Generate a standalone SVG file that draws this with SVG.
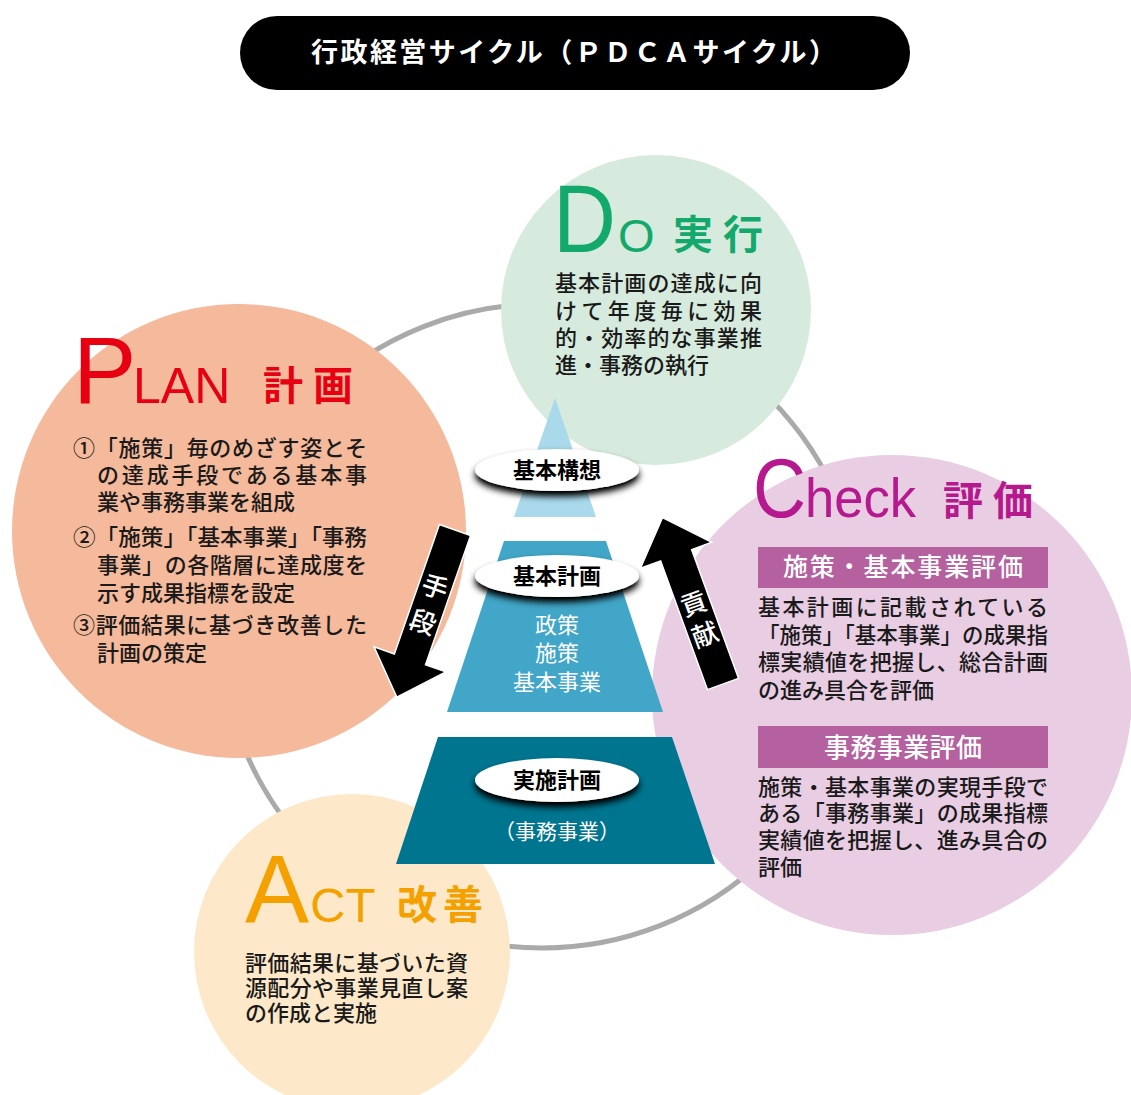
<svg xmlns="http://www.w3.org/2000/svg" width="1131" height="1095" viewBox="0 0 1131 1095">
<defs>
<style>
.jp{font-family:"Noto Sans CJK JP","Noto Sans",sans-serif;}
.body{font-family:"Noto Sans CJK JP",sans-serif;font-size:22px;font-weight:500;fill:#1a1a1a;}
.lat{font-family:"Liberation Sans",Arial,sans-serif;}
.head{font-family:"Noto Sans CJK JP",sans-serif;font-size:40px;font-weight:700;}
.ell{fill:#fff;filter:url(#sh);}
.elab{font-family:"Noto Sans CJK JP",sans-serif;font-size:22px;font-weight:700;fill:#000;text-anchor:middle;}
.wt{font-family:"Noto Sans CJK JP",sans-serif;fill:#fff;text-anchor:middle;}
.bar{fill:#b5609f;}
</style>
<filter id="sh" x="-20%" y="-40%" width="140%" height="200%">
<feGaussianBlur in="SourceAlpha" stdDeviation="3.5"/>
<feOffset dx="0" dy="5" result="b"/>
<feComponentTransfer in="b" result="c"><feFuncA type="linear" slope="1.1"/></feComponentTransfer>
<feMerge><feMergeNode in="c"/><feMergeNode in="SourceGraphic"/></feMerge>
</filter>
</defs>
<rect width="1131" height="1095" fill="#fff"/>

<g id="title">
<rect x="240" y="16" width="670" height="74" rx="37" fill="#000"/>
<text x="311" y="62" class="jp" font-size="27" font-weight="700" fill="#fff" textLength="525" lengthAdjust="spacing">行政経営サイクル（ＰＤＣＡサイクル）</text>
</g>

<circle id="ring" cx="542" cy="626" r="322" fill="none" stroke="#aaaaaa" stroke-width="5"/>

<g id="do">
<circle cx="656" cy="310" r="155" fill="#d6eadd"/>
<text x="553" y="252" class="lat" font-size="97" fill="#13a86c" textLength="63" lengthAdjust="spacingAndGlyphs">D</text>
<text x="618" y="252" class="lat" font-size="47" fill="#13a86c">O</text>
<text x="673" y="249" class="head" fill="#13a86c" letter-spacing="10">実行</text>
<text class="body" x="555" y="291" textLength="207" lengthAdjust="spacing">基本計画の達成に向</text>
<text class="body" x="555" y="319" textLength="207" lengthAdjust="spacing">けて年度毎に効果</text>
<text class="body" x="555" y="346" textLength="207" lengthAdjust="spacing">的・効率的な事業推</text>
<text class="body" x="555" y="373">進・事務の執行</text>
</g>

<g id="plan">
<circle cx="239" cy="531" r="227" fill="#f5b99b"/>
<text x="73" y="403" class="lat" font-size="95" fill="#e60012">P</text>
<text x="133" y="403" class="lat" font-size="50" fill="#e60012">LAN</text>
<text x="263" y="400" class="head" fill="#e60012" letter-spacing="10">計画</text>
<text class="body" x="73" y="456" textLength="294" lengthAdjust="spacing">①「施策」毎のめざす姿とそ</text>
<text class="body" x="97" y="483" textLength="270" lengthAdjust="spacing">の達成手段である基本事</text>
<text class="body" x="97" y="510">業や事務事業を組成</text>
<text class="body" x="73" y="545" textLength="294" lengthAdjust="spacingAndGlyphs">②「施策」「基本事業」「事務</text>
<text class="body" x="97" y="573" textLength="270" lengthAdjust="spacing">事業」の各階層に達成度を</text>
<text class="body" x="97" y="601">示す成果指標を設定</text>
<text class="body" x="73" y="633" textLength="294" lengthAdjust="spacing">③評価結果に基づき改善した</text>
<text class="body" x="97" y="661">計画の策定</text>
</g>

<g id="check">
<circle cx="892" cy="695" r="240" fill="#e8cde3"/>
<text x="753" y="517" class="lat" font-size="83" fill="#b5198d" textLength="53" lengthAdjust="spacingAndGlyphs">C</text>
<text x="805" y="517" class="lat" font-size="56" fill="#b5198d" textLength="111" lengthAdjust="spacingAndGlyphs">heck</text>
<text x="943" y="515" class="head" fill="#b5198d" letter-spacing="10">評価</text>
<rect class="bar" x="758" y="547" width="290" height="41"/>
<text class="wt" x="903" y="576" font-size="25" font-weight="500" textLength="240" lengthAdjust="spacing">施策・基本事業評価</text>
<text class="body" x="758" y="615" textLength="290" lengthAdjust="spacing">基本計画に記載されている</text>
<text class="body" x="758" y="643" textLength="290" lengthAdjust="spacingAndGlyphs">「施策」「基本事業」の成果指</text>
<text class="body" x="758" y="670" textLength="290" lengthAdjust="spacing">標実績値を把握し、総合計画</text>
<text class="body" x="758" y="698">の進み具合を評価</text>
<rect class="bar" x="758" y="726" width="290" height="42"/>
<text class="wt" x="903" y="757" font-size="26" font-weight="500" textLength="158" lengthAdjust="spacing">事務事業評価</text>
<text class="body" x="758" y="795" textLength="290" lengthAdjust="spacing">施策・基本事業の実現手段で</text>
<text class="body" x="758" y="821" textLength="290" lengthAdjust="spacing">ある「事務事業」の成果指標</text>
<text class="body" x="758" y="848" textLength="290" lengthAdjust="spacing">実績値を把握し、進み具合の</text>
<text class="body" x="758" y="875">評価</text>
</g>

<g id="act">
<circle cx="352" cy="952" r="158" fill="#fde9c9"/>
<text x="245" y="922" class="lat" font-size="96" fill="#f4a100">A</text>
<text x="310" y="922" class="lat" font-size="49" fill="#f4a100">CT</text>
<text x="397" y="919" class="head" fill="#f4a100" letter-spacing="6">改善</text>
<text class="body" x="245" y="971" textLength="223" lengthAdjust="spacing">評価結果に基づいた資</text>
<text class="body" x="245" y="996" textLength="223" lengthAdjust="spacing">源配分や事業見直し案</text>
<text class="body" x="245" y="1021">の作成と実施</text>
</g>

<g id="kihon-koso">
<polygon points="555,398 596,517 514,517" fill="#a9d9ea"/>
<ellipse class="ell" cx="557" cy="470" rx="82" ry="21"/>
<text class="elab" x="557" y="478">基本構想</text>
</g>

<g id="kihon-keikaku">
<polygon points="504,541 606,541 663,712 447,712" fill="#41a6c7"/>
<ellipse class="ell" cx="557" cy="576" rx="82" ry="21"/>
<text class="elab" x="557" y="584">基本計画</text>
<text class="wt" x="557" y="633" font-size="22">政策</text>
<text class="wt" x="557" y="661" font-size="22">施策</text>
<text class="wt" x="557" y="690" font-size="22">基本事業</text>
</g>

<g id="jisshi-keikaku">
<polygon points="438,737 672,737 715,864 396,864" fill="#00758f"/>
<ellipse class="ell" cx="557" cy="780" rx="82" ry="22"/>
<text class="elab" x="557" y="788">実施計画</text>
<text class="wt" x="557" y="839" font-size="21">（事務事業）</text>
</g>

<g id="connectors">
<g transform="translate(455,530) rotate(19.2)">
<path d="M-16.5,0 L16.5,0 L16.5,137 L38,137 L0,177 L-38,137 L-16.5,137 Z" fill="#000" stroke="#fff" stroke-width="1.5"/>
<text class="wt" x="0" y="70" font-size="26" font-weight="500">手</text>
<text class="wt" x="0" y="107" font-size="26" font-weight="500">段</text>
</g>
<g transform="translate(723,684) rotate(-20)">
<path d="M-16.5,0 L16.5,0 L16.5,-137 L38,-137 L0,-177 L-38,-137 L-16.5,-137 Z" fill="#000" stroke="#fff" stroke-width="1.5"/>
<text class="wt" x="0" y="-76" font-size="26" font-weight="500">貢</text>
<text class="wt" x="0" y="-43" font-size="26" font-weight="500">献</text>
</g>
</g>
</svg>
